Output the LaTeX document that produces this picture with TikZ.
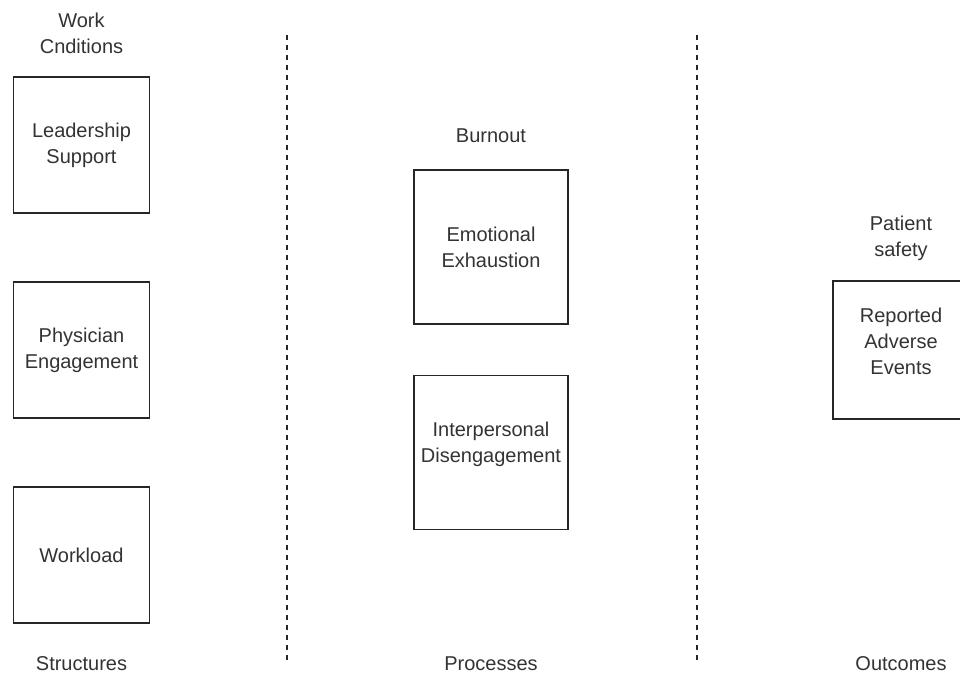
\documentclass[tikz,border=0pt]{standalone}
\usepackage{fontspec}
\setmainfont{Liberation Sans}
\begin{document}
\begin{tikzpicture}[x=0.75pt,y=-0.75pt,
  box/.style={draw=black!85,line width=1.1pt,minimum width=102pt,minimum height=102pt,inner sep=0pt,outer sep=0pt},
  boxm/.style={draw=black!85,line width=1.1pt,minimum width=115.5pt,minimum height=115.5pt,inner sep=0pt,outer sep=0pt},
  lbl/.style={font=\fontsize{15}{19.5}\selectfont,text=black!80,align=center,inner sep=0pt},
  divider/.style={draw=black!85,line width=1.1pt,dash pattern=on 3.75pt off 3.75pt}]
\useasboundingbox (0,0) rectangle (960,677);
\begin{scope}
\clip (0,0) rectangle (960,677);
% column titles
\node[lbl] (wc) at (81.5,33) {Work\\Cnditions};
\node[lbl] (bo) at (491,136) {Burnout};
\node[lbl] (ps) at (901,238) {Patient\\safety};
% left boxes
\node[box,lbl] (ls) at (81.5,145) {Leadership\\Support};
\node[box,lbl] (pe) at (81.5,350) {Physician\\Engagement};
\node[box,lbl] (wl) at (81.5,555) {Workload};
% middle boxes
\node[boxm] (ee) at (491,247) {};
\node[lbl] (eet) at (491,247) {Emotional\\Exhaustion};
\node[boxm] (id) at (491,452.5) {};
\node[lbl] (idt) at (491,444) {Interpersonal\\Disengagement};
% right box
\node[box,minimum width=102pt,minimum height=103.5pt] (ra) at (901,350) {};
\node[lbl] (rat) at (901,341) {Reported\\Adverse\\Events};
% dividers
\coordinate (d1t) at (287,35);
\coordinate (d1b) at (287,665);
\coordinate (d2t) at (697,35);
\coordinate (d2b) at (697,665);
\draw[divider] (d1t) -- (d1b);
\draw[divider] (d2t) -- (d2b);
% bottom labels
\node[lbl] (st) at (81.5,664) {Structures};
\node[lbl] (pr) at (491,664) {Processes};
\node[lbl] (oc) at (901,664) {Outcomes};
\end{scope}
\end{tikzpicture}
\end{document}
